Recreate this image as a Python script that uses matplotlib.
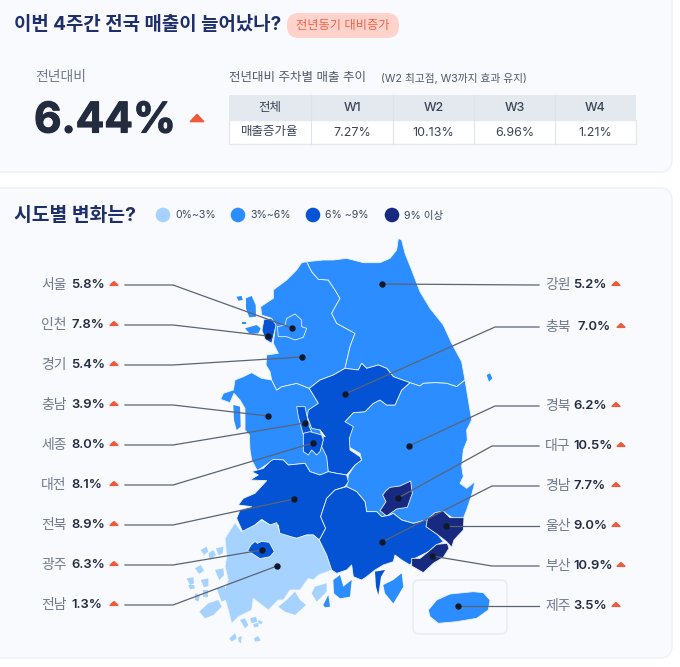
import matplotlib
matplotlib.use("Agg")
import matplotlib.pyplot as plt
import matplotlib.patheffects as pe
from matplotlib.patches import Polygon, FancyBboxPatch, Circle, Rectangle

FONT = ['Inter', 'Noto Sans CJK KR', 'DejaVu Sans']
plt.rcParams['font.family'] = FONT

# ---------- data ----------
weeks = ['W1', 'W2', 'W3', 'W4']
week_values = ['7.27%', '10.13%', '6.96%', '1.21%']
total_value = '6.44%'
legend_labels = ['0%~3%', '3%~6%', '6% ~9%', '9% 이상']
left_regions = ['서울', '인천', '경기', '충남', '세종', '대전', '전북', '광주', '전남']
left_values = [5.8, 7.8, 5.4, 3.9, 8.0, 8.1, 8.9, 6.3, 1.3]
right_regions = ['강원', '충북', '경북', '대구', '경남', '울산', '부산', '제주']
right_values = [5.2, 7.0, 6.2, 10.5, 7.7, 9.0, 10.9, 3.5]
# colour class shown on the map (0..3); 경북 is drawn in class 1 in the source
region_class = {'서울': 1, '인천': 2, '경기': 1, '충남': 1, '세종': 2, '대전': 2, '전북': 2, '광주': 2,
                '전남': 0, '강원': 1, '충북': 2, '경북': 1, '대구': 3, '경남': 2, '울산': 3, '부산': 3, '제주': 1}
class_colors = ['#A6D2FF', '#2B8DFF', '#0353D4', '#172A80']

NAVY = '#1E2F6B'; DARK = '#232C3F'; GREY = '#6F7A8C'; ORANGE = '#EE5A3A'
CARD = '#F8FAFD'; CARD_EDGE = '#EDF0F6'; LINE = '#5B6472'


# map geometry helpers: outlines
def z2(pts): return [(190 + x / 3, 230 + y / 3) for x, y in pts]
def z3(pts): return [(180 + x / 3, 430 + y / 3) for x, y in pts]


outline = {
    '충남': [z2([(358, 475), (320, 460), (275, 470), (260, 480), (245, 450), (215, 445), (185, 428), (160, 440),
                 (135, 450), (130, 480), (100, 490), (92, 508), (120, 518), (132, 490), (150, 510), (165, 535),
                 (165, 600), (178, 615), (180, 660)])
             + z3([(215, 90), (232, 122), (280, 90), (310, 90), (325, 105), (375, 100), (390, 125), (420, 135),
                   (445, 125), (440, 60), (420, 0)])
             + z2([(390, 560), (385, 520)]),
             z2([(130, 525), (150, 530), (152, 590), (140, 600), (132, 570)])],
    '경기': [z2([(350, 95), (365, 125), (385, 148), (415, 150), (435, 180), (450, 205), (425, 250), (440, 280),
                 (495, 310), (480, 350), (465, 415), (430, 435), (390, 450), (358, 475), (320, 460), (275, 470),
                 (260, 480), (245, 450), (240, 425), (228, 405), (230, 375), (265, 370), (250, 340), (255, 300),
                 (245, 265), (215, 255), (212, 230), (250, 205), (250, 180), (290, 150), (320, 120), (335, 98)]),
             z2([(140, 200), (155, 198), (158, 210), (145, 212)]),
             z2([(168, 205), (185, 198), (197, 225), (198, 260), (178, 262), (168, 235)]),
             z2([(165, 295), (200, 285), (212, 295), (205, 310), (180, 312)]),
             z2([(155, 275), (168, 275), (168, 282), (155, 282)])],
    '강원': [z2([(350, 95), (400, 90), (430, 90), (470, 85), (520, 98), (570, 98), (600, 85), (620, 60), (625, 25),
                 (635, 30), (645, 70), (665, 120), (690, 185), (720, 235), (760, 285), (785, 340), (815, 395),
                 (825, 450), (800, 470), (770, 460), (735, 458), (700, 460), (690, 468), (660, 458), (610, 440),
                 (590, 415), (565, 405), (530, 415), (515, 400), (505, 420), (465, 415), (480, 350), (495, 310),
                 (440, 280), (425, 250), (450, 205), (435, 180), (415, 150), (385, 148), (365, 125)])],
    '서울': [z2([(290, 265), (315, 252), (335, 270), (335, 290), (350, 295), (340, 322), (315, 330), (290, 320),
                 (265, 320), (262, 290), (285, 285)])],
    '인천': [z2([(222, 268), (245, 266), (258, 285), (250, 320), (245, 340), (225, 328), (216, 300)])],
    '경북': [z2([(660, 458), (690, 468), (700, 460), (735, 458), (770, 460), (800, 470), (825, 450), (835, 510),
                 (845, 570)])
             + z3([(860, 0), (862, 30), (850, 60), (845, 110), (850, 140), (840, 160), (860, 175), (885, 155),
                   (875, 195), (860, 240), (850, 265), (820, 265), (790, 245), (765, 250), (745, 268), (700, 280),
                   (665, 270), (640, 250), (630, 255), (605, 260), (590, 245), (560, 245), (555, 215), (530, 185),
                   (500, 170), (505, 135), (525, 105), (545, 90), (540, 70), (505, 50), (510, 0)])
             + z2([(465, 575), (490, 548), (525, 545), (550, 520), (570, 510), (590, 525), (615, 525), (635, 480)]),
             z2([(890, 435), (900, 430), (907, 445), (897, 455)])],
    '충북': [z2([(358, 475), (390, 450), (430, 435), (465, 415), (505, 420), (515, 400), (530, 415), (565, 405),
                 (590, 415), (610, 440), (660, 458), (635, 480), (615, 525), (590, 525), (570, 510), (550, 520),
                 (525, 545), (490, 548), (465, 575), (490, 590), (478, 625), (480, 660), (510, 680)])
             + z3([(545, 90), (525, 105), (500, 135), (470, 130), (445, 125), (440, 80), (425, 50), (430, 20),
                   (420, 0)])
             + z2([(405, 620), (390, 600), (365, 595), (352, 560), (355, 540), (385, 520)])],
    '세종': [z2([(320, 530), (345, 530), (358, 590), (365, 605), (340, 615), (325, 560)])],
    '대전': [z3([(370, 10), (390, 5), (425, 15), (430, 30), (420, 65), (410, 75), (395, 60), (385, 75), (370, 65),
                 (370, 40)])],
    '전북': [z3([(215, 125), (250, 115), (270, 95), (280, 88), (310, 90), (325, 105), (375, 100), (390, 125),
                 (420, 135), (445, 125), (470, 130), (500, 135), (505, 155), (495, 170), (465, 180), (440, 205),
                 (422, 260), (437, 295), (418, 330), (400, 315), (380, 315), (350, 325), (300, 315), (295, 285),
                 (270, 285), (245, 268), (225, 285), (190, 310), (170, 265), (180, 240), (215, 230), (175, 225),
                 (190, 205), (225, 190), (260, 152), (210, 150), (235, 135)])],
    '전남': [z3([(135, 325), (165, 278), (185, 305), (225, 285), (245, 270), (270, 285), (290, 278), (300, 310),
                 (350, 325), (380, 315), (400, 315), (418, 330), (440, 375), (455, 420), (415, 435), (400, 450),
                 (385, 445), (360, 480), (330, 480), (310, 510), (295, 510), (265, 540), (220, 505), (215, 540),
                 (175, 560), (155, 580), (145, 540), (130, 490), (145, 450), (135, 410), (140, 380)])]
            + [z3([(a, b + 210) for a, b in p]) for p in [
                [(62, 150), (80, 140), (85, 155), (72, 165)], [(85, 160), (100, 150), (108, 165), (90, 180)],
                [(108, 145), (130, 140), (128, 160), (115, 165)], [(45, 205), (62, 195), (72, 212), (58, 222)],
                [(20, 235), (40, 232), (42, 250), (30, 255)], [(25, 255), (42, 255), (45, 265), (30, 268)],
                [(62, 240), (85, 235), (85, 258), (72, 262)], [(70, 270), (85, 270), (85, 290), (70, 290)],
                [(105, 210), (130, 205), (132, 225), (118, 240)], [(110, 265), (135, 260), (145, 295), (125, 305)],
                [(45, 280), (60, 285), (55, 305), (45, 300)],
                [(58, 335), (85, 310), (115, 300), (125, 320), (100, 345), (75, 355)],
                [(145, 270), (168, 285), (155, 295)], [(180, 360), (195, 355), (205, 375), (195, 385)],
                [(210, 355), (228, 350), (232, 365), (215, 370)], [(220, 372), (235, 368), (235, 380), (222, 382)],
                [(235, 360), (248, 365), (245, 372), (235, 370)], [(148, 415), (165, 400), (170, 415), (155, 425)],
                [(175, 412), (185, 408), (183, 430), (176, 425)], [(222, 415), (235, 408), (242, 422), (225, 425)],
                [(295, 320), (320, 300), (345, 275), (360, 300), (378, 315), (345, 345), (315, 335)],
                [(395, 280), (405, 260), (440, 250), (440, 275), (410, 305)]]],
    '광주': [z3([(a, b + 210) for a, b in [(203, 152), (213, 135), (225, 124), (232, 130), (245, 124), (268, 127),
                                          (283, 155), (270, 170), (240, 176), (225, 166)]])],
    '경남': [z3([(500, 170), (530, 185), (555, 215), (560, 245), (590, 245), (605, 260), (630, 255), (640, 250),
                 (665, 270), (700, 280), (745, 268), (740, 290), (770, 310), (790, 335), (770, 345), (745, 365),
                 (705, 385), (690, 405), (665, 390), (645, 375), (640, 395), (610, 405), (585, 420), (560, 440),
                 (545, 450), (520, 440), (515, 405), (500, 420), (470, 430), (455, 420), (440, 375), (418, 330),
                 (437, 295), (422, 260), (440, 205), (465, 180)]),
             z3([(585, 425), (615, 420), (603, 440), (595, 495), (588, 470)])],
    '대구': [z3([(630, 172), (660, 168), (692, 153), (697, 190), (682, 232), (650, 237), (620, 258), (600, 242),
                 (618, 215), (608, 195), (618, 182)])],
    '울산': [z3([(742, 268), (765, 248), (790, 243), (810, 263), (852, 263), (850, 300), (822, 330), (815, 352),
                 (800, 335), (770, 312), (738, 290)])],
    '부산': [z3([(695, 385), (720, 385), (745, 365), (770, 343), (802, 340), (807, 355), (790, 382), (760, 400),
                 (730, 428), (695, 408)])],
    '제주': [z3([(745, 540), (770, 510), (810, 492), (880, 485), (910, 488), (930, 510), (925, 540), (890, 565),
                 (830, 575), (775, 580), (750, 560)])],
}
blue_islands = [z3([(460, 450), (480, 435), (490, 470), (515, 450), (510, 500), (480, 505), (462, 490)]),
                z3([(610, 465), (640, 450), (665, 430), (670, 470), (640, 520), (615, 490)]),
                z3([(430, 525), (445, 495), (450, 530), (435, 532)])]

# leader lines: label end, elbow, dot
left_rows = [285, 325, 365, 405, 445, 485, 525, 565, 605]
left_dots = [(292, 328), (268, 336), (302, 357), (268, 416), (305, 423), (313, 443), (294, 499), (262, 550), (277, 566)]
right_rows = [285, 327, 406, 446, 486, 526, 566, 606]
right_dots = [(382, 284), (345, 394), (409, 446), (398, 498), (382, 542), (446, 526), (432, 556), (458, 606)]
right_elbow = [535, 495, 495, 492, 492, 535, 492, 535]
right_val_x = [573, 578, 573, 573, 573, 573, 573, 573]
right_tri_x = [616, 621, 616, 621, 616, 616, 621, 616]

# ---------- figure ----------
fig = plt.figure(figsize=(6.8, 6.67), dpi=100, facecolor='white')
ax = fig.add_axes([0, 0, 1, 1])
ax.set_xlim(0, 680); ax.set_ylim(667, 0); ax.axis('off')


def card(x, y, w, h):
    ax.add_patch(FancyBboxPatch((x, y), w, h, boxstyle='round,pad=0,rounding_size=12', fc=CARD, ec=CARD_EDGE, lw=1))


def tri(cx, cy, w=9, h=5, color=ORANGE):
    ax.add_patch(Polygon([(cx - w / 2, cy + h / 2), (cx + w / 2, cy + h / 2), (cx, cy - h / 2)], closed=True,
                         fc=color, ec=color, lw=1.2, joinstyle='round', zorder=5))


def txt(x, y, s, size, color, weight='normal', ha='left'):
    return ax.text(x, y, s, fontsize=size, color=color, fontweight=weight, ha=ha, va='center', zorder=6)


card(-12, -12, 684, 184)
card(-12, 188, 684, 470)

# header
txt(14, 25, '이번 4주간 전국 매출이 늘어났나?', 13.6, NAVY, 'bold')
ax.add_patch(FancyBboxPatch((287, 13), 112, 25, boxstyle='round,pad=0,rounding_size=12', fc='#FFD3CB', ec='none'))
txt(343, 26, '전년동기 대비증가', 8.8, '#F0634B', ha='center')
txt(35, 77, '전년대비', 10, GREY)
big = txt(34, 121, total_value, 30.5, DARK, 'bold')
big.set_path_effects([pe.withStroke(linewidth=0.8, foreground=DARK)])
tri(197, 118, w=13, h=7)
txt(229, 78, '전년대비 주차별 매출 추이', 9, '#4F5A6B')
txt(381, 79, '(W2 최고점, W3까지 효과 유지)', 7.7, '#4F5A6B')

# table
col_x = [229, 311, 393, 474, 555, 636]
ax.add_patch(Rectangle((229, 95), 407, 25, fc='#E4E9EF', ec='none'))
ax.add_patch(Rectangle((229, 120), 407, 24, fc='white', ec='#E4E9EF', lw=1))
for x in col_x[1:-1]:
    ax.plot([x, x], [95, 144], color='#DDE3EA', lw=0.8, zorder=2)
heads = ['전체'] + weeks
cells = ['매출증가율'] + week_values
for i in range(5):
    cx = (col_x[i] + col_x[i + 1]) / 2
    txt(cx, 108, heads[i], 9, '#3A4557', 'medium', ha='center')
    txt(cx, 132.5, cells[i], 9, '#3A4557', ha='center')

# section title + legend
txt(14, 216, '시도별 변화는?', 13.9, NAVY, 'bold')
for x, c, lab in zip([163, 238, 313, 392], class_colors, legend_labels):
    ax.add_patch(Circle((x, 215), 7.3, fc=c, ec='none'))
    txt(x + 12, 215.5, lab, 7.6, '#3A4557')

# inset frame for Jeju
ax.add_patch(FancyBboxPatch((413, 580), 94, 54, boxstyle='round,pad=0,rounding_size=6', fc='none', ec='#E6EAF1', lw=1))

# map: only the main body of each region carries the thin white border
for name, polys in outline.items():
    for i, pts in enumerate(polys):
        ax.add_patch(Polygon(pts, closed=True, fc=class_colors[region_class[name]],
                             ec='#EAF3FF' if i == 0 else 'none', lw=0.6, joinstyle='round', zorder=3))
for pts in blue_islands:
    ax.add_patch(Polygon(pts, closed=True, fc=class_colors[1], ec='none', zorder=3))

# labels and leaders
for name, val, y, dot in zip(left_regions, left_values, left_rows, left_dots):
    txt(41, y, name, 10, GREY)
    txt(71.5, y, f'{val:.1f}%', 9.4, DARK, 'semibold')
    tri(114, y - 1.5, w=7.5, h=3.5)
    ax.plot([125, 173, dot[0]], [y, y, dot[1]], color=LINE, lw=0.9, zorder=4)
    ax.plot(*dot, 'o', ms=3.6, color='#111827', zorder=5)

for name, val, y, dot, ex, vx, tx in zip(right_regions, right_values, right_rows, right_dots, right_elbow,
                                        right_val_x, right_tri_x):
    txt(545, y, name, 10, GREY)
    txt(vx, y, f'{val:.1f}%', 9.4, DARK, 'semibold')
    tri(tx, y - 1.5, w=7.5, h=3.5)
    ax.plot([539, ex, dot[0]], [y, y, dot[1]], color=LINE, lw=0.9, zorder=4)
    ax.plot(*dot, 'o', ms=3.6, color='#111827', zorder=5)

fig.savefig('out.png', dpi=100, facecolor='white')
